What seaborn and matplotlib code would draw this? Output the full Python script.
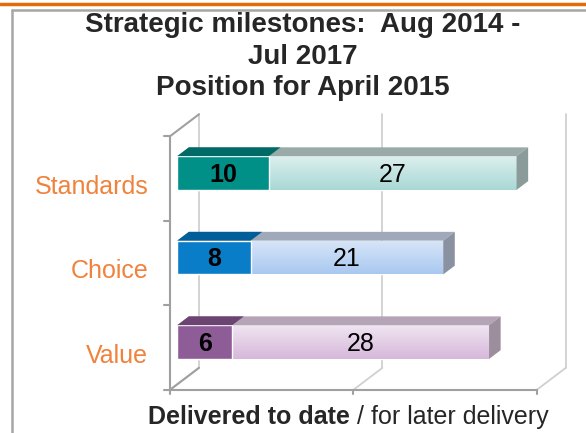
import numpy as np
import pandas as pd
import matplotlib.pyplot as plt
import seaborn as sns
from matplotlib.patches import Polygon
from matplotlib.lines import Line2D
from matplotlib.colors import LinearSegmentedColormap
from matplotlib.transforms import ScaledTranslation

# data
categories = ['Standards', 'Choice', 'Value']
delivered = [10, 8, 6]
later = [27, 21, 28]
x_ticks = [0, 20, 40]

# colours (front / top / side faces)
dark_front = ['#009088', '#0A7DC8', '#8E5C96']
dark_top = ['#006B66', '#005F98', '#6B4472']
light_top_col = ['#DCEFEE', '#D8E6F8', '#F0E4F1']
light_bot_col = ['#A9D8D4', '#A9C8F0', '#D6B8DB']
light_lid = ['#9AAAA8', '#A0A9B9', '#B4A4B5']
light_side = ['#8B9B99', '#8A92A2', '#9C8E9D']

sns.set_style('white')
plt.rcParams['font.family'] = ['Liberation Sans', 'DejaVu Sans']

df = pd.DataFrame({'cat': categories, 'delivered': delivered, 'later': later})
df['total'] = df['delivered'] + df['later']

fig = plt.figure(figsize=(5.86, 4.33), dpi=100)
ax = fig.add_axes([0.279, 0.0734, 0.6964, 0.7222])

sns.barplot(data=df, x='total', y='cat', hue='cat', palette=light_bot_col, orient='h',
            width=0.40, saturation=1, legend=False, ax=ax, zorder=3)
sns.barplot(data=df, x='delivered', y='cat', hue='cat', palette=dark_front, orient='h',
            width=0.40, saturation=1, legend=False, ax=ax, zorder=5)

light_bars = ax.patches[:3]
dark_bars = ax.patches[3:6]

# fake 3D projection
DX, DY = 3.16, 0.26
BAR_D = 0.25
T = 0.40


def proj(v, c, d):
    return v + (d - BAR_D) * DX, c - (d - BAR_D) * DY


# walls and floor
wall = '#D0D0D0'
axis_col = '#A0A0A0'
for v in x_ticks:
    ax.plot(*zip(proj(v, -0.5, 1), proj(v, 2.5, 1)), color=wall, lw=1.3, zorder=1)
    ax.plot(*zip(proj(v, 2.5, 0), proj(v, 2.5, 1)), color=wall, lw=1.3, zorder=1)
ax.plot(*zip(proj(0, -0.5, 0), proj(0, -0.5, 1)), color=axis_col, lw=1.5, zorder=2)
ax.plot(*zip(proj(0, 2.5, 0), proj(0, 2.5, 1)), color=axis_col, lw=1.5, zorder=2)
ax.plot(*zip(proj(0, -0.5, 0), proj(0, 2.5, 0)), color=axis_col, lw=1.5, zorder=2)
ax.plot(*zip(proj(-0.7, 2.5, 0), proj(40, 2.5, 0)), color=axis_col, lw=1.5, zorder=2,
        clip_on=False)
for v in x_ticks:
    x0, y0 = proj(v, 2.5, 0)
    ax.plot([x0, x0], [y0, y0 + 0.05], color=axis_col, lw=1.5, clip_on=False)
for c in [-0.5, 0.5, 1.5]:
    x0, y0 = proj(0, c, 0)
    ax.plot([x0 - 0.65, x0], [y0, y0], color=axis_col, lw=1.5, clip_on=False)

# gradient on the light bars + lids and sides
for i, p in enumerate(light_bars):
    x, y, w, h = p.get_x(), p.get_y(), p.get_width(), p.get_height()
    cmap = LinearSegmentedColormap.from_list('g', [light_top_col[i], light_bot_col[i]])
    grad = np.linspace(0, 1, 64).reshape(-1, 1)
    im = ax.imshow(grad, cmap=cmap, extent=(x, x + w, y + h, y), origin='upper',
                   aspect='auto', zorder=3.5)
    im.set_clip_path(p)
    ox, oy = DX * T, -DY * T
    ax.add_patch(Polygon([(x, y), (x + w, y), (x + w + ox, y + oy), (x + ox, y + oy)],
                         closed=True, fc=light_lid[i], ec='none', zorder=4))
    ax.add_patch(Polygon([(x + w, y), (x + w, y + h), (x + w + ox, y + h + oy),
                          (x + w + ox, y + oy)],
                         closed=True, fc=light_side[i], ec='none', zorder=4))

for i, p in enumerate(dark_bars):
    x, y, w, h = p.get_x(), p.get_y(), p.get_width(), p.get_height()
    ox, oy = DX * T, -DY * T
    ax.add_patch(Polygon([(x, y), (x + w, y), (x + w + ox, y + oy), (x + ox, y + oy)],
                         closed=True, fc=dark_top[i], ec='none', zorder=6))

# value labels
for i in range(len(categories)):
    ax.text(delivered[i] / 2, i + 0.02, str(delivered[i]), ha='center', va='center',
            fontsize=18, fontweight='bold', color='black', zorder=8)
    ax.text(delivered[i] + later[i] / 2, i + 0.02, str(later[i]), ha='center', va='center',
            fontsize=18, color='black', zorder=8)

ax.set_xlim(-1.5, 43)
ax.set_ylim(2.7, -1.0)
ax.set_xticks([])
ax.set_xlabel('')
ax.set_ylabel('')
ax.tick_params(axis='y', length=0, pad=11, labelsize=18, labelcolor='#F0823C')
for lab in ax.get_yticklabels():
    lab.set_transform(lab.get_transform() + ScaledTranslation(0, -0.11, fig.dpi_scale_trans))
sns.despine(ax=ax, left=True, bottom=True)

# title
title_lines = ['Strategic milestones:  Aug 2014 -', 'Jul 2017', 'Position for April 2015']
for k, line in enumerate(title_lines):
    fig.text(303 / 586, 1 - (32 + 31.5 * k) / 433, line, ha='center', va='baseline',
             fontsize=20, fontweight='bold')

# x label: bold part + normal part
t1 = fig.text(148 / 586, 1 - 424 / 433, 'Delivered to date', ha='left', va='baseline',
              fontsize=18, fontweight='bold')
fig.canvas.draw()
ax.annotate(' / for later delivery', xy=(1, 0), xycoords=t1, ha='left', va='bottom',
            fontsize=18)

# page decoration
fig.add_artist(Line2D([0, 1], [1 - 3.5 / 433] * 2, color='#E36C0A', lw=2.5))
fig.add_artist(Line2D([12 / 586, 1], [1 - 9.5 / 433] * 2, color='#A6A6A6', lw=1.8))
fig.add_artist(Line2D([12 / 586] * 2, [0, 1 - 9.5 / 433], color='#A6A6A6', lw=1.8))

fig.savefig('out.png', dpi=100)
